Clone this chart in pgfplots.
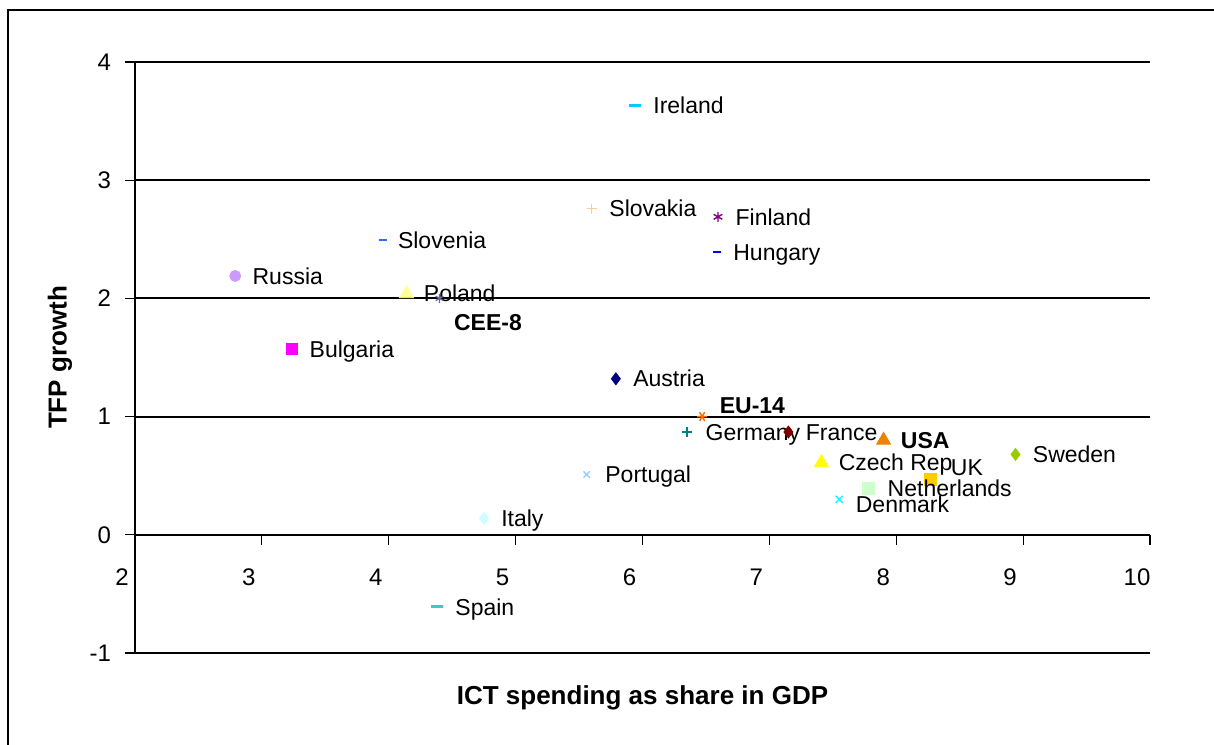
\documentclass[border=0pt]{standalone}
\usepackage{fontspec}
\setmainfont{Liberation Sans}
\usepackage{pgfplots}
\pgfplotsset{compat=1.18}
\definecolor{cIreland}{HTML}{00CCFF}
\definecolor{cSlovakia}{HTML}{FFCC99}
\definecolor{cFinland}{HTML}{800080}
\definecolor{cHungary}{HTML}{0000FF}
\definecolor{cSlovenia}{HTML}{3366FF}
\definecolor{cRussia}{HTML}{CC99FF}
\definecolor{cPoland}{HTML}{FFFF99}
\definecolor{cCEE}{HTML}{666699}
\definecolor{cBulgaria}{HTML}{FF00FF}
\definecolor{cAustria}{HTML}{000080}
\definecolor{cEU}{HTML}{FF6600}
\definecolor{cGermany}{HTML}{008080}
\definecolor{cFrance}{HTML}{800000}
\definecolor{cUSA}{HTML}{F08000}
\definecolor{cCzech}{HTML}{FFFF00}
\definecolor{cUK}{HTML}{FFCC00}
\definecolor{cSweden}{HTML}{99CC00}
\definecolor{cNetherlands}{HTML}{CCFFCC}
\definecolor{cDenmark}{HTML}{00FFFF}
\definecolor{cPortugal}{HTML}{99CCFF}
\definecolor{cItaly}{HTML}{CCFFFF}
\definecolor{cSpain}{HTML}{33CCCC}
\pgfplotsset{
  lab/.style={only marks, nodes near coords, point meta=explicit symbolic,
    nodes near coords style={anchor=west, text=black, inner sep=0pt, xshift=8.5pt,
      font=\fontsize{11.5}{13}\selectfont, text height=8.2pt, text depth=0pt}},
  boldlab/.style={nodes near coords style={font=\bfseries\fontsize{11.5}{13}\selectfont}},
}
\begin{document}
\begin{tikzpicture}[x=1pt,y=1pt]
\useasboundingbox (0,0) rectangle (607,372);
\draw[line width=1pt] (4,-2) -- (4,367) -- (609,367);
\begin{axis}[
  at={(67.5pt,45.5pt)}, anchor=south west,
  scale only axis, width=507.5pt, height=295.5pt,
  xmin=2, xmax=10, ymin=-1, ymax=4,
  clip=false,
  axis x line*=middle, axis y line*=left,
  hide obscured x ticks=false,
  xtick={2,3,4,5,6,7,8,9,10}, ytick={-1,0,1,2,3,4},
  xticklabels={2,3,4,5,6,7,8,9,10},
  yticklabels={-1,0,1,2,3,4},
  tick align=outside, major tick length=5pt,
  tick style={black, line width=0.6pt},
  ymajorgrids, grid style={black, line width=1pt},
  axis line style={black, line width=0.8pt},
  xticklabel style={font=\fontsize{12}{14}\selectfont, xshift=-6.5pt, yshift=-8.5pt},
  yticklabel style={font=\fontsize{12}{14}\selectfont, xshift=-3.5pt},
  xlabel={ICT spending as share in GDP},
  ylabel={TFP growth},
  xlabel style={at={(axis description cs:0.5,-0.076)}, anchor=center, font=\bfseries\fontsize{13}{15}\selectfont},
  ylabel style={at={(axis description cs:-0.074,0.5)}, anchor=center, font=\bfseries\fontsize{13}{15}\selectfont},
]
\addplot[lab, color=cIreland, mark=-, mark size=3pt, mark options={line width=1.5pt}] coordinates {(5.94,3.63) [Ireland]};
\addplot[lab, color=cSlovakia, mark=+, mark size=2.5pt, mark options={line width=0.7pt}] coordinates {(5.60,2.76) [Slovakia]};
\addplot[lab, color=cFinland, mark=asterisk, mark size=2.5pt, mark options={line width=0.7pt}] coordinates {(6.595,2.69) [Finland]};
\addplot[lab, color=cHungary, mark=-, mark size=2pt, mark options={line width=1pt}, nodes near coords style={xshift=-1pt}] coordinates {(6.59,2.39) [Hungary]};
\addplot[lab, color=cSlovenia, mark=-, mark size=2pt, mark options={line width=1pt}, nodes near coords style={xshift=-1.5pt}] coordinates {(3.955,2.49) [Slovenia]};
\addplot[lab, color=cRussia, mark=*, mark size=2.75pt] coordinates {(2.79,2.19) [Russia]};
\addplot[lab, color=cPoland, mark=triangle*, mark size=4pt] coordinates {(4.14,2.04) [Poland]};
\addplot[lab, boldlab, color=cCEE, mark=asterisk, mark size=2.2pt, mark options={line width=0.6pt}, nodes near coords style={xshift=-1.5pt, yshift=-12pt}] coordinates {(4.40,2.00) [CEE-8]};
\addplot[lab, color=cBulgaria, mark=square*, mark size=2.75pt] coordinates {(3.24,1.57) [Bulgaria]};
\addplot[lab, color=cAustria, mark=diamond*, mark size=3pt] coordinates {(5.79,1.32) [Austria]};
\addplot[lab, boldlab, color=cEU, mark=asterisk, mark size=2.5pt, mark options={line width=0.7pt, rotate=90}, nodes near coords style={yshift=5.5pt}] coordinates {(6.47,1.00) [EU-14]};
\addplot[lab, color=cGermany, mark=+, mark size=2.5pt, mark options={line width=0.7pt}, nodes near coords style={xshift=0.5pt}] coordinates {(6.35,0.87) [Germany]};
\addplot[lab, color=cFrance, mark=diamond*, mark size=3pt] coordinates {(7.15,0.87) [France]};
\addplot[lab, boldlab, color=cUSA, mark=triangle*, mark size=4pt] coordinates {(7.90,0.80) [USA]};
\addplot[lab, color=cCzech, mark=triangle*, mark size=4pt] coordinates {(7.41,0.61) [Czech Rep]};
\addplot[lab, color=cUK, mark=square*, mark size=3pt, nodes near coords style={xshift=1.5pt, yshift=6pt}] coordinates {(8.27,0.47) [UK]};
\addplot[lab, color=cSweden, mark=diamond*, mark size=3pt] coordinates {(8.94,0.68) [Sweden]};
\addplot[lab, color=cNetherlands, mark=square*, mark size=3pt, nodes near coords style={xshift=1pt}] coordinates {(7.78,0.39) [Netherlands]};
\addplot[lab, color=cDenmark, mark=x, mark size=2.5pt, mark options={line width=0.7pt}, nodes near coords style={xshift=-0.5pt, yshift=-2.5pt}] coordinates {(7.55,0.30) [Denmark]};
\addplot[lab, color=cPortugal, mark=x, mark size=2.25pt, mark options={line width=0.7pt}, nodes near coords style={xshift=0.5pt}] coordinates {(5.56,0.51) [Portugal]};
\addplot[lab, color=cItaly, mark=diamond*, mark size=3pt] coordinates {(4.75,0.14) [Italy]};
\addplot[lab, color=cSpain, mark=-, mark size=3pt, mark options={line width=1.5pt}] coordinates {(4.38,-0.61) [Spain]};
\end{axis}
\end{tikzpicture}
\end{document}
